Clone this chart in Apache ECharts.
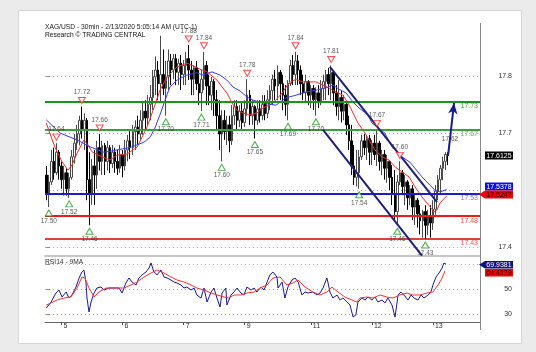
<!DOCTYPE html>
<html><head><meta charset="utf-8">
<script src="https://cdn.jsdelivr.net/npm/echarts@6/dist/echarts.min.js"></script>
<style>html,body{margin:0;padding:0;background:#ebebeb}#c{width:536px;height:352px}</style>
</head><body><div id="c"></div>
<script>
// ---------- DATA ----------
const titleLine1 = 'XAG/USD - 30min - 2/13/2020 5:05:14 AM (UTC-1)';
const titleLine2 = 'Research © TRADING CENTRAL';
const rsiTitle = 'RSI14 - 9MA';
const dayIdx = [6, 30, 54, 78, 104, 128, 152];
const dayLbl = ['5', '6', '7', '9', '11', '12', '13'];
const priceTickLabels = ['17.4', '', '17.7', '17.8'];
const rsiTicks = [30, 50, 70];

// hourly candles: [open, close, low, high]
const ohlc = [
[17.57,17.53,17.515,17.59],[17.53,17.555,17.50,17.57],[17.555,17.60,17.548,17.625],[17.60,17.575,17.56,17.63],
[17.575,17.62,17.57,17.64],[17.62,17.59,17.56,17.625],[17.59,17.56,17.54,17.60],[17.56,17.575,17.525,17.59],
[17.575,17.54,17.525,17.585],[17.54,17.565,17.52,17.575],[17.565,17.61,17.56,17.625],[17.61,17.64,17.595,17.66],
[17.64,17.66,17.625,17.68],[17.66,17.69,17.635,17.70],[17.69,17.67,17.65,17.72],[17.67,17.69,17.625,17.705],
[17.69,17.56,17.515,17.695],[17.56,17.53,17.46,17.62],[17.53,17.59,17.505,17.605],[17.59,17.57,17.505,17.625],
[17.57,17.63,17.54,17.645],[17.63,17.60,17.58,17.66],[17.60,17.635,17.57,17.645],[17.635,17.60,17.57,17.64],
[17.60,17.63,17.58,17.645],[17.63,17.595,17.575,17.636],[17.595,17.62,17.585,17.636],[17.62,17.60,17.575,17.63],
[17.60,17.585,17.57,17.625],[17.585,17.615,17.575,17.636],[17.615,17.59,17.565,17.625],[17.59,17.625,17.58,17.647],
[17.625,17.645,17.60,17.658],[17.645,17.63,17.605,17.67],[17.63,17.665,17.614,17.68],[17.665,17.675,17.625,17.69],
[17.675,17.66,17.636,17.70],[17.66,17.69,17.647,17.712],[17.69,17.71,17.658,17.728],[17.71,17.695,17.67,17.734],
[17.695,17.725,17.68,17.745],[17.725,17.74,17.69,17.767],[17.74,17.785,17.712,17.80],[17.785,17.80,17.745,17.83],
[17.80,17.77,17.734,17.82],[17.77,17.79,17.73,17.875],[17.79,17.76,17.745,17.845],[17.76,17.785,17.70,17.82],
[17.785,17.82,17.756,17.845],[17.82,17.80,17.767,17.835],[17.80,17.825,17.78,17.835],[17.825,17.795,17.767,17.835],
[17.795,17.815,17.767,17.825],[17.815,17.79,17.756,17.833],[17.79,17.81,17.767,17.822],[17.81,17.825,17.767,17.84],
[17.825,17.80,17.778,17.855],[17.80,17.78,17.745,17.82],[17.78,17.805,17.745,17.81],[17.805,17.77,17.756,17.82],
[17.77,17.75,17.723,17.80],[17.75,17.78,17.71,17.80],[17.78,17.81,17.756,17.84],[17.81,17.765,17.723,17.82],
[17.765,17.745,17.723,17.79],[17.745,17.775,17.712,17.785],[17.775,17.735,17.70,17.78],[17.735,17.70,17.67,17.756],
[17.70,17.66,17.625,17.734],[17.66,17.69,17.60,17.712],[17.69,17.665,17.647,17.712],[17.665,17.68,17.636,17.70],
[17.68,17.645,17.62,17.70],[17.645,17.70,17.636,17.723],[17.70,17.72,17.68,17.734],[17.72,17.69,17.67,17.734],
[17.69,17.71,17.675,17.723],[17.71,17.685,17.67,17.728],[17.685,17.715,17.675,17.734],[17.715,17.745,17.70,17.78],
[17.745,17.70,17.68,17.756],[17.70,17.72,17.68,17.734],[17.72,17.69,17.65,17.723],[17.69,17.715,17.68,17.734],
[17.715,17.70,17.685,17.734],[17.70,17.725,17.69,17.745],[17.725,17.705,17.69,17.745],[17.705,17.735,17.695,17.756],
[17.735,17.755,17.712,17.767],[17.755,17.78,17.723,17.79],[17.78,17.765,17.734,17.80],[17.765,17.795,17.734,17.81],
[17.795,17.77,17.734,17.80],[17.77,17.745,17.712,17.79],[17.745,17.725,17.70,17.767],[17.725,17.77,17.69,17.778],
[17.77,17.81,17.765,17.822],[17.81,17.79,17.767,17.833],[17.79,17.82,17.767,17.84],[17.82,17.80,17.767,17.833],
[17.80,17.77,17.745,17.81],[17.77,17.75,17.734,17.79],[17.75,17.775,17.728,17.79],[17.775,17.745,17.723,17.778],
[17.745,17.76,17.717,17.767],[17.76,17.735,17.712,17.767],[17.735,17.75,17.70,17.762],[17.75,17.73,17.717,17.767],
[17.73,17.76,17.723,17.778],[17.76,17.775,17.734,17.79],[17.775,17.79,17.734,17.80],[17.79,17.77,17.745,17.805],
[17.77,17.795,17.734,17.81],[17.795,17.75,17.723,17.80],[17.75,17.72,17.70,17.767],[17.72,17.74,17.69,17.778],
[17.74,17.71,17.685,17.756],[17.71,17.725,17.69,17.745],[17.725,17.68,17.658,17.728],[17.68,17.645,17.625,17.70],
[17.645,17.59,17.57,17.68],[17.59,17.565,17.548,17.636],[17.565,17.575,17.545,17.625],[17.575,17.61,17.54,17.625],
[17.61,17.645,17.603,17.658],[17.645,17.63,17.614,17.66],[17.63,17.65,17.603,17.658],[17.65,17.62,17.592,17.658],
[17.62,17.64,17.592,17.647],[17.64,17.615,17.603,17.658],[17.615,17.64,17.59,17.67],[17.64,17.60,17.58,17.645],
[17.60,17.615,17.57,17.625],[17.615,17.585,17.56,17.625],[17.585,17.60,17.553,17.614],[17.60,17.565,17.537,17.603],
[17.565,17.53,17.504,17.592],[17.53,17.49,17.472,17.581],[17.49,17.555,17.46,17.57],[17.555,17.575,17.548,17.60],
[17.575,17.545,17.526,17.581],[17.545,17.555,17.504,17.57],[17.555,17.52,17.494,17.559],[17.52,17.54,17.504,17.548],
[17.54,17.50,17.472,17.548],[17.50,17.515,17.461,17.526],[17.515,17.485,17.455,17.52],[17.485,17.47,17.44,17.504],
[17.47,17.49,17.433,17.494],[17.49,17.46,17.43,17.504],[17.46,17.48,17.439,17.494],[17.48,17.465,17.433,17.504],
[17.465,17.495,17.45,17.515],[17.495,17.535,17.483,17.548],[17.535,17.56,17.515,17.57],[17.56,17.585,17.526,17.592],
[17.585,17.60,17.559,17.61],[17.60,17.615,17.581,17.62],[17.615,17.6125,17.592,17.62]
];

// moving averages on price: [hour index, value]
const maFast = [[0,17.684],[3.4,17.631],[6.2,17.599],[8.5,17.581],[10.1,17.592],[12.1,17.618],[14.8,17.647],[16.4,17.636],[18,17.621],[21.1,17.612],[25.1,17.603],[27.8,17.614],[31.7,17.616],[35.7,17.631],[39.6,17.675],[42,17.712],[44.7,17.756],[47.5,17.785],[51.4,17.807],[55.3,17.815],[57.7,17.809],[60.4,17.802],[63.2,17.796],[67.1,17.778],[69.1,17.763],[71,17.75],[73,17.728],[75,17.712],[77.3,17.706],[80.1,17.702],[82.8,17.706],[85.2,17.717],[87.6,17.723],[90.3,17.734],[93,17.752],[95.4,17.772],[98.2,17.78],[100.9,17.774],[103.3,17.774],[106,17.774],[108.8,17.767],[111.1,17.761],[113.9,17.752],[116.6,17.745],[118.6,17.728],[120.6,17.706],[122.5,17.684],[124.5,17.669],[126.9,17.647],[129.2,17.625],[132,17.61],[134.7,17.603],[137.1,17.588],[139.8,17.577],[142.6,17.566],[145,17.544],[147.7,17.522],[150.4,17.504],[152.4,17.489],[153.6,17.494],[154.8,17.509],[156.3,17.518],[157.5,17.5247]];
const maSlow = [[0,17.691],[5.4,17.662],[12.1,17.647],[17.6,17.631],[22.7,17.62],[27.8,17.625],[33.3,17.631],[38.4,17.642],[40.8,17.653],[42.7,17.673],[44.7,17.702],[46.7,17.734],[48.6,17.763],[51.4,17.778],[55.3,17.789],[59.2,17.794],[61.6,17.789],[65.1,17.796],[68.3,17.789],[71,17.778],[73.4,17.763],[76.2,17.754],[78.9,17.741],[81.3,17.734],[84.8,17.728],[90.3,17.723],[94.2,17.739],[98.2,17.745],[102.1,17.752],[106,17.756],[110,17.761],[112.7,17.767],[115.1,17.758],[117.8,17.75],[120.6,17.73],[122.9,17.717],[126.5,17.702],[128,17.684],[133.1,17.662],[136,17.631],[139.8,17.61],[143,17.598],[147.7,17.566],[150.8,17.548],[152.8,17.537],[154.8,17.533],[156.7,17.537],[157.5,17.5378]];

// RSI14 and its 9MA
const rsi = [[0,34.8],[1.9,39.6],[3.8,46.8],[5,49.2],[6.2,43.6],[7.8,47.6],[8.9,42.8],[10.1,45.2],[11.7,51.6],[12.9,58.8],[14,63.6],[14.8,65.2],[15.6,55.6],[16,42.8],[16.8,31.6],[17.6,39.6],[18.8,46.8],[19.9,50.8],[21.5,51.6],[22.7,49.2],[24.7,50.8],[26.6,50.8],[28.6,50.8],[29.8,46.8],[31.3,54.8],[32.5,58.8],[33.7,55.6],[35.3,53.2],[36.4,58.8],[37.6,61.2],[39.2,63.6],[40.4,66.8],[41.2,70.8],[42.3,63.6],[43.5,61.2],[45.1,65.2],[46.3,59.6],[47.5,58.8],[49,57.2],[50.2,55.6],[51.4,54.8],[53,53.2],[54.1,50.8],[55.3,51.6],[56.9,49.2],[58.1,50.8],[59.2,45.2],[60.8,42.8],[62,50.8],[63.2,39.6],[64.8,47.6],[65.9,50.8],[67.1,42.8],[68.3,35.6],[69.1,46.8],[70.6,50.8],[71,37.2],[72.6,45.2],[73.8,47.6],[75,50.8],[76.5,46.8],[77.7,45.2],[78.9,51.6],[80.5,49.2],[81.7,50.8],[82.8,47.6],[84.4,51.6],[85.6,49.2],[86.8,55.6],[87.9,61.2],[89.1,63.6],[90.7,59.6],[91.1,50.8],[92.7,55.6],[93.8,42.8],[95,51.6],[96.6,57.2],[97.8,58.8],[99,55.6],[100.5,45.2],[101.7,47.6],[102.9,46.8],[104.8,47.6],[106.4,45.2],[107.6,46.8],[108.8,50.8],[110.3,58.8],[110.7,55.6],[111.5,47.6],[112.7,42.8],[114.3,45.2],[115.5,41.2],[116.6,42.8],[118.2,39.6],[119.4,37.2],[120.6,27.6],[121.7,29.2],[122.5,39.6],[124.1,42.8],[125.3,41.2],[126.5,43.6],[128,41.2],[129.2,43.6],[130.4,39.6],[132,41.2],[133.1,38.8],[134.3,42.8],[135.9,37.2],[137.1,27.6],[138.3,45.2],[139.4,47.6],[140.6,45.2],[142.2,41.2],[143.4,45.2],[144.5,42.8],[146.1,41.2],[147.3,45.2],[148.5,42.8],[150.1,45.2],[151.2,47.6],[152,53.2],[153.2,59.6],[154.4,62.8],[155.6,66.8],[156.3,70.8],[157.1,69.9381]];
const rsiMa = [[0,37.2],[1.9,38.8],[4.2,41.2],[7,42.8],[9.7,43.6],[12.1,50.8],[14,59.6],[15.2,58.8],[16.8,50.8],[18.8,43.6],[20.7,47.6],[23.5,50.8],[27.4,50.8],[30.6,50.8],[33.3,53.2],[35.7,55.6],[38.4,59.6],[41.2,62.8],[43.5,65.2],[46.3,62.8],[49,59.6],[51.4,57.2],[54.1,55.6],[56.9,53.2],[59.2,50.8],[62,49.2],[64.8,46.8],[67.1,45.2],[69.9,43.6],[71.8,42.8],[73.8,45.2],[76.5,45.2],[78.9,46.8],[81.7,47.6],[84,50.8],[86.8,53.2],[89.1,58.8],[91.9,59.6],[94.6,53.2],[97,54.8],[99,57.2],[101.7,51.6],[104.8,47.6],[107.6,45.2],[110.3,47.6],[112.3,51.6],[114.7,47.6],[117.4,43.6],[120.2,41.2],[122.1,39.6],[123.3,42.8],[126.1,43.6],[128.4,42.8],[131.2,45.2],[133.9,43.6],[136.3,42.8],[139,45.2],[141.8,46.8],[144.2,45.2],[146.9,45.2],[149.7,46.8],[152,47.6],[154,53.2],[155.6,58.8],[156.7,64.4179]];

// pivots
const hiIdx = [4, 14, 21, 56, 62, 79, 98, 112, 130, 139];
const hiTxt = ['17.64','17.72','17.66','17.88','17.84','17.78','17.84','17.81','17.67','17.60'];
const loIdx = [1, 9, 17, 47, 61, 69, 82, 95, 106, 123, 138, 149];
const loTxt = ['17.50','17.52','17.46','17.70','17.71','17.60','17.65','17.69','17.70','17.54','17.46','17.43'];

// key levels
const levels = [17.73, 17.67, 17.53, 17.48, 17.43];
const levelTxt = ['17.73', '17.67', '17.53', '17.48', '17.43'];
const targetTxt = '17.62';

// channel and target arrow, in data units [hour index, price]
const upperChannel = [[111.5, 17.807], [153.6, 17.511]];
const lowerChannel = [[108.8, 17.669], [147.7, 17.3935]];
const targetArrow = [[158, 17.615], [160.3, 17.728]];

// ---------- CHART ----------
const FONT = '"Liberation Sans", Arial, sans-serif';
const X_MIN = -0.5, X_MAX = 170.5;
const levelColors = ['#169816', '#3a9e3a', '#1c1cd0', '#ee1a1a', '#d60000'];
const levelTextColors = ['#33b033', '#66b866', '#7878e8', '#ff4d4d', '#ff5757'];

const chart = echarts.init(document.getElementById('c'), null, {renderer: 'canvas'});

const markData = levels.map((v, k) => ({
  yAxis: v,
  lineStyle: {color: levelColors[k], width: k === 4 ? 1.5 : 2, type: 'solid'},
  label: {show: true, position: 'insideEndBottom', formatter: levelTxt[k], color: levelTextColors[k],
          fontSize: 7, fontFamily: FONT, distance: [2, 1]}
}));
[upperChannel, lowerChannel].forEach(ch => {
  markData.push([
    {coord: ch[0], symbol: 'none', lineStyle: {color: '#1f1f7c', width: 2, type: 'solid'}, label: {show: false}},
    {coord: ch[1], symbol: 'none'}
  ]);
});
markData.push([
  {coord: targetArrow[0], symbol: 'none', lineStyle: {color: '#1a1a8c', width: 2, type: 'solid'}, label: {show: false}},
  {coord: targetArrow[1], symbol: 'arrow', symbolSize: [7, 11], itemStyle: {color: '#1a1a8c'}}
]);

const last = a => a[a.length - 1][1];
const lastClose = ohlc[ohlc.length - 1][1];

function box(x, y, w, h, fill, txt, txtColor, pointer) {
  const els = [
    {type: 'rect', shape: {x, y, width: w, height: h}, style: {fill}, z: 50},
    {type: 'text', x: x + w / 2, y: y + h / 2 + 0.5, style: {text: txt, fill: txtColor, font: '7px ' + FONT,
      textAlign: 'center', textVerticalAlign: 'middle', align: 'center', verticalAlign: 'middle'}, z: 51}
  ];
  if (pointer) els.push({type: 'polygon', shape: {points: [[x - 6, y + h / 2], [x, y], [x, y + h]]}, style: {fill}, z: 50});
  return els;
}

const option = {
  animation: false,
  backgroundColor: '#ebebeb',
  textStyle: {fontFamily: FONT},
  grid: [
    {left: 45, right: 56, top: 22, height: 234},
    {left: 45, right: 56, top: 257, height: 65},
    {left: 45, right: 56, top: 76, height: 171}
  ],
  xAxis: [
    {gridIndex: 0, type: 'value', min: X_MIN, max: X_MAX,
     axisLine: {show: true, onZero: false, lineStyle: {color: '#c6c6c6', width: 2}},
     axisTick: {show: false}, axisLabel: {show: false}, splitLine: {show: false}},
    {gridIndex: 1, type: 'value', min: X_MIN, max: X_MAX,
     axisLine: {show: true, onZero: false, lineStyle: {color: '#666', width: 1}},
     axisTick: {show: true, customValues: dayIdx, length: 3, lineStyle: {color: '#555'}},
     axisLabel: {show: true, customValues: dayIdx, fontSize: 7, color: '#333', align: 'left', margin: 1,
                 padding: [0, 0, 0, 2], formatter: v => dayLbl[dayIdx.indexOf(Math.round(v))] || ''},
     splitLine: {show: false}},
    {gridIndex: 2, type: 'value', min: X_MIN, max: X_MAX, show: false}
  ],
  yAxis: [
    {gridIndex: 0, type: 'value', min: 17.3928, max: 17.9052, show: false, splitLine: {show: false}},
    {gridIndex: 1, type: 'value', min: 23.6, max: 75.6, position: 'right',
     axisLine: {show: false},
     axisTick: {show: true, customValues: rsiTicks, length: 4, lineStyle: {color: '#888'}},
     axisLabel: {show: true, customValues: rsiTicks, fontSize: 7, color: '#333', align: 'right', margin: 32},
     splitLine: {show: true, lineStyle: {type: [1, 3], color: '#b0b0b0'}}},
    {gridIndex: 2, type: 'category', data: priceTickLabels, boundaryGap: false, position: 'right',
     axisLine: {show: false},
     axisTick: {show: true, interval: 0, length: 4, lineStyle: {color: '#888'}},
     axisLabel: {show: true, interval: 0, fontSize: 7, color: '#333', align: 'right', margin: 32},
     splitLine: {show: true, interval: 0, lineStyle: {type: [1, 3], color: '#b0b0b0'}}}
  ],
  series: [
    {type: 'candlestick', xAxisIndex: 0, yAxisIndex: 0, barWidth: 2,
     data: ohlc.map((d, i) => [i, d[0], d[1], d[2], d[3]]),
     itemStyle: {color: '#ffffff', color0: '#000000', borderColor: '#4a4a4a', borderColor0: '#000000', borderWidth: 1},
     markLine: {silent: true, symbol: ['none', 'none'], animation: false, z: 6, data: markData}},
    {type: 'line', xAxisIndex: 0, yAxisIndex: 0, data: maFast, showSymbol: false, smooth: false, z: 4,
     lineStyle: {color: '#ff2a2a', width: 1}},
    {type: 'line', xAxisIndex: 0, yAxisIndex: 0, data: maSlow, showSymbol: false, z: 4,
     lineStyle: {color: '#3a3aff', width: 1}},
    {type: 'scatter', xAxisIndex: 0, yAxisIndex: 0, z: 8,
     data: hiIdx.map(i => [i, ohlc[i][3]]),
     symbol: 'path://M0,0 L10,0 L5,9 Z', symbolSize: [7, 6], symbolOffset: [0, -6],
     itemStyle: {color: '#ffffff', borderColor: '#ff2020', borderWidth: 1},
     label: {show: true, position: 'top', distance: 1, fontSize: 6.5, color: '#333', fontFamily: FONT,
             formatter: p => hiTxt[p.dataIndex]}},
    {type: 'scatter', xAxisIndex: 0, yAxisIndex: 0, z: 8,
     data: loIdx.map(i => [i, ohlc[i][2]]),
     symbol: 'path://M5,0 L10,9 L0,9 Z', symbolSize: [7, 6], symbolOffset: [0, 6],
     itemStyle: {color: '#ffffff', borderColor: '#1f9a1f', borderWidth: 1},
     label: {show: true, position: 'bottom', distance: 1, fontSize: 6.5, color: '#333', fontFamily: FONT,
             formatter: p => loTxt[p.dataIndex]}},
    {type: 'line', xAxisIndex: 1, yAxisIndex: 1, data: rsi, showSymbol: false, z: 4,
     lineStyle: {color: '#1a1a96', width: 1}},
    {type: 'line', xAxisIndex: 1, yAxisIndex: 1, data: rsiMa, showSymbol: false, z: 5,
     lineStyle: {color: '#ff3030', width: 1}}
  ],
  graphic: {elements: [
    {type: 'rect', shape: {x: 18.5, y: 10.5, width: 503, height: 333}, style: {fill: '#ffffff', stroke: '#d6d6d6', lineWidth: 1}, z: -10},
    {type: 'line', shape: {x1: 480.5, y1: 23, x2: 480.5, y2: 330}, style: {stroke: '#8a8a8a', lineWidth: 1}, z: 40},
    {type: 'text', x: 45, y: 27, style: {text: titleLine1, fill: '#222', font: '6.7px ' + FONT, textVerticalAlign: 'middle', verticalAlign: 'middle'}, z: 45},
    {type: 'text', x: 45, y: 35, style: {text: titleLine2, fill: '#111', font: '6.7px ' + FONT, textVerticalAlign: 'middle', verticalAlign: 'middle'}, z: 45},
    {type: 'text', x: 45, y: 262, style: {text: rsiTitle, fill: '#333', font: '6.7px ' + FONT, textVerticalAlign: 'middle', verticalAlign: 'middle'}, z: 45},
    {type: 'text', x: 450, y: 139, style: {text: targetTxt, fill: '#555', font: '6.5px ' + FONT, textAlign: 'center', align: 'center', textVerticalAlign: 'middle', verticalAlign: 'middle'}, z: 45},
    ...box(485, 151.5, 28, 8, '#000000', lastClose.toFixed(4), '#ffffff', false),
    ...box(485, 182.5, 28, 8, '#0c0cf0', last(maSlow).toFixed(4), '#ffffff', false),
    ...box(485, 190.5, 28, 8, '#f00000', last(maFast).toFixed(4), '#2a0000', true),
    ...box(485, 261, 28, 7.5, '#10107e', last(rsi).toFixed(4), '#ffffff', true),
    ...box(485, 269, 28, 7.5, '#f00000', last(rsiMa).toFixed(4), '#2a0000', false)
  ]}
};
chart.setOption(option);
</script></body></html>
